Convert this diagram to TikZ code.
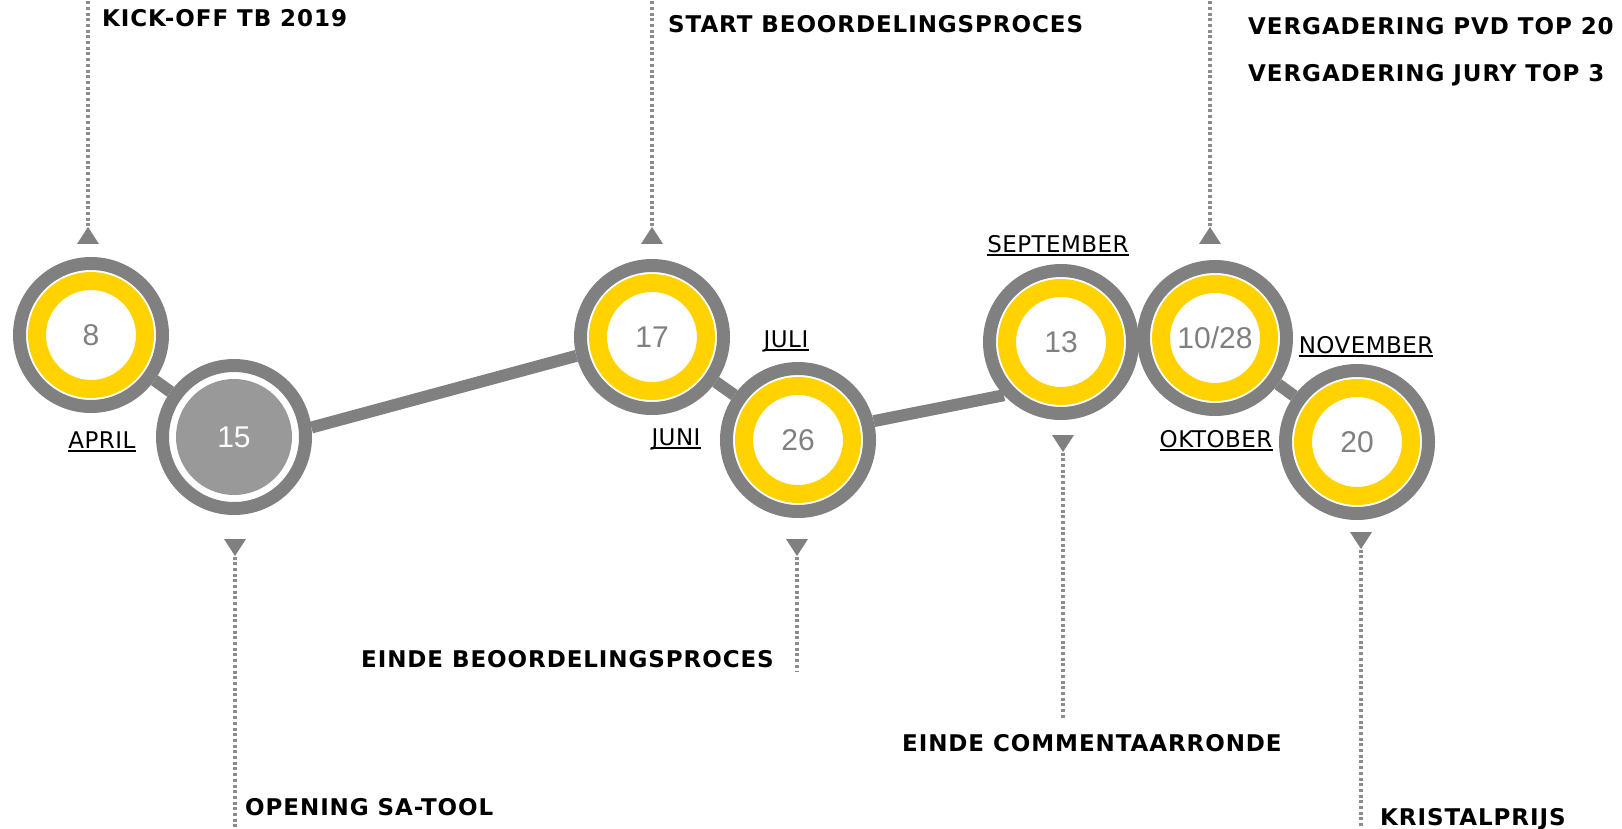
\documentclass[tikz,border=0pt]{standalone}
\usepackage{fontspec}
\setmainfont{Liberation Sans}
\newfontfamily\labelFont{DejaVu Sans}[LetterSpace=2]
\newfontfamily\eventFont{DejaVu Sans}[LetterSpace=4]
\usetikzlibrary{shapes.geometric, backgrounds}
\definecolor{ringGray}{RGB}{128,128,128}
\definecolor{ringYellow}{RGB}{255,210,0}
\definecolor{diskGray}{RGB}{153,153,153}
\definecolor{dotGray}{RGB}{140,140,140}
\tikzstyle{timeline} = [x = 1pt, y = -1pt]
\tikzstyle{outerRing} = [circle, draw=ringGray, line width=13pt, fill=white, minimum size=143pt, inner sep=0pt]
\tikzstyle{yellowRing} = [circle, draw=ringYellow, line width=18pt, fill=white, minimum size=108pt, inner sep=0pt, text=ringGray, font=\fontsize{30}{30}\selectfont]
\tikzstyle{grayDisk} = [circle, fill=diskGray, minimum size=116pt, inner sep=0pt, text=white, font=\fontsize{30}{30}\selectfont]
\tikzstyle{connector} = [draw=ringGray, line width=12pt]
\tikzstyle{marker} = [isosceles triangle, isosceles triangle stretches, fill=ringGray, inner sep=0pt, minimum height=17pt, minimum width=22pt]
\tikzstyle{markerUp} = [marker, shape border rotate=90]
\tikzstyle{markerDown} = [marker, shape border rotate=270]
\tikzstyle{leaderLine} = [draw=dotGray, line width=4pt, dash pattern=on 3pt off 2.7pt]
\tikzstyle{eventText} = [font=\fontsize{23}{23}\eventFont\bfseries, anchor=base west, inner sep=0pt]
\tikzstyle{monthText} = [font=\fontsize{23}{23}\labelFont, anchor=base, inner sep=0pt]
\tikzstyle{monthRule} = [draw=black, line width=1.5pt]
\newcommand{\dateCircle}[3]{
  \node [outerRing] (#1) at (#2) {};
  \node [yellowRing] (#1Day) at (#2) {#3};
}
\newcommand{\openCircle}[3]{
  \node [outerRing] (#1) at (#2) {};
  \node [grayDisk] (#1Day) at (#2) {#3};
}
\newcommand{\markerLine}[5]{
  \node [marker#2] (#1Mark) at (#3,#4) {};
  \coordinate (#1End) at (#3,#5);
  \draw [leaderLine] (#1Mark.apex) -- (#1End);
}
\newcommand{\monthLabel}[3]{
  \node [monthText] (#1) at (#2) {#3};
  \draw [monthRule] ([yshift=-3pt]#1.base west) -- ([yshift=-3pt]#1.base east);
}
\begin{document}
\begin{tikzpicture}[timeline]
  \useasboundingbox (0,0) rectangle (1622,829);
  % date circles
  \dateCircle{aprilEight}{91,335}{8}
  \openCircle{aprilFifteen}{234,437}{15}
  \dateCircle{juniSeventeen}{652,337}{17}
  \dateCircle{juliTwentySix}{798,440}{26}
  \dateCircle{septThirteen}{1061,342}{13}
  \dateCircle{oktTen}{1215,338}{10/28}
  \dateCircle{novTwenty}{1357,442}{20}
  \begin{pgfonlayer}{background}
    \draw [connector] (aprilEight) -- (aprilFifteen);
    \draw [connector] (aprilFifteen.7) -- (juniSeventeen.194);
    \draw [connector] (juniSeventeen) -- (juliTwentySix);
    \draw [connector] (juliTwentySix.14) -- (septThirteen.223);
    \draw [connector] (oktTen) -- (novTwenty);
  \end{pgfonlayer}
  % months
  \monthLabel{april}{102,448}{APRIL}
  \monthLabel{juni}{676,445}{JUNI}
  \monthLabel{juli}{786,347}{JULI}
  \monthLabel{september}{1058,252}{SEPTEMBER}
  \monthLabel{oktober}{1216,447}{OKTOBER}
  \monthLabel{november}{1366,353}{NOVEMBER}
  % markers and events
  \markerLine{kickOff}{Up}{88}{238}{0}
  \markerLine{openingTool}{Down}{235}{545}{829}
  \markerLine{startProces}{Up}{652}{238}{0}
  \markerLine{eindeProces}{Down}{797}{545}{671}
  \markerLine{eindeRonde}{Down}{1063}{441}{719}
  \markerLine{vergadering}{Up}{1210}{238}{0}
  \markerLine{kristalprijs}{Down}{1361}{538}{829}
  \node [eventText] (kickOffText) at (102,27) {KICK-OFF TB 2019};
  \node [eventText] (openingToolText) at (245,815) {OPENING SA-TOOL};
  \node [eventText] (startProcesText) at (668,33) {START BEOORDELINGSPROCES};
  \node [eventText, anchor=base east] (eindeProcesText) at (774,667) {EINDE BEOORDELINGSPROCES};
  \node [eventText] (eindeRondeText) at (902,751) {EINDE COMMENTAARRONDE};
  \node [eventText] (vergaderingText) at (1248,35) {VERGADERING PVD TOP 20};
  \node [eventText] (juryText) at (1248,82) {VERGADERING JURY TOP 3};
  \node [eventText] (kristalprijsText) at (1380,825) {KRISTALPRIJS};
\end{tikzpicture}
\end{document}
